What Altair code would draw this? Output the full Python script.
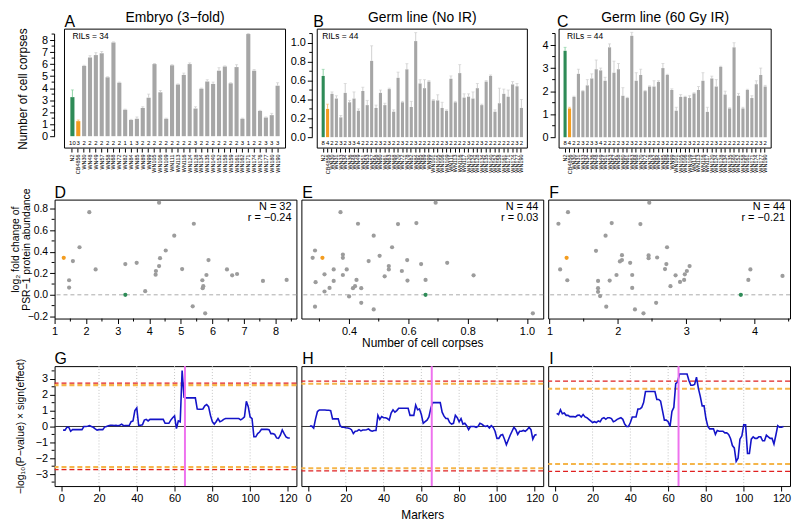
import altair as alt
import pandas as pd

FONT = "Liberation Sans"
GREEN = "#2e8b57"
LGREEN = "#8fd3a6"
ORANGE = "#f39c1f"
LORANGE = "#f7c27a"
GRAY = "#a6a6a6"
LGRAY = "#d0d0d0"
PT_GRAY = "#9c9c9c"
BLUE = "#1414c8"
MAGENTA = "#ee72ee"
RED = "#e02020"
GOLD = "#f5b54a"

# ---------------- top row: cell corpses per strain ----------------
A_names = ["N2", "CB4856", "WN30", "WN48", "WN49", "WN57", "WN58", "WN68", "WN72", "WN82",
           "WN84", "WN85", "WN89", "WN99", "WN105", "WN106", "WN109", "WN111", "WN113", "WN116",
           "WN124", "WN128", "WN134", "WN135", "WN140", "WN152", "WN158", "WN159", "WN161", "WN162",
           "WN171", "WN174", "WN176", "WN177", "WN180", "WN190"]
A_vals = [3.25, 1.25, 5.85, 6.55, 6.75, 6.9, 4.9, 7.8, 4.45, 2.2, 1.35, 1.45,
          2.35, 3.2, 6.0, 3.65, 1.45, 5.9, 4.3, 5.1, 6.0, 2.3,
          3.95, 4.55, 4.35, 5.45, 5.8, 4.4, 5.75, 1.45, 8.5, 5.45,
          2.1, 1.55, 1.75, 4.2]
A_errs = [3.85, 1.35, 5.9, 6.7, 6.95, 7.05, 4.95, 7.85, 4.5, 2.25, 1.4, 1.6,
          2.45, 3.5, 6.05, 3.8, 1.5, 5.95, 4.35, 5.25, 6.1, 2.45,
          4.0, 4.7, 4.5, 5.7, 5.85, 4.45, 5.95, 1.5, 8.55, 5.55,
          2.15, 1.6, 1.9, 4.45]
A_counts = [10, 3, 2, 2, 2, 2, 2, 2, 2, 1, 1, 3, 2, 2, 2, 2, 2, 2, 2,
            2, 2, 3, 2, 2, 2, 2, 2, 2, 2, 3, 1, 2, 2, 3, 3, 3]

BC_names = ["N2", "CB4856", "WN30", "WN31", "WN33", "WN34", "WN36", "WN48", "WN49", "WN51",
            "WN53", "WN57", "WN58", "WN60", "WN61", "WN63", "WN68", "WN70", "WN72", "WN78",
            "WN82", "WN84", "WN85", "WN89", "WN99", "WN101", "WN105", "WN106", "WN109", "WN111",
            "WN113", "WN116", "WN117", "WN120", "WN124", "WN128", "WN134", "WN135", "WN140", "WN152",
            "WN158", "WN161", "WN171", "WN174", "WN177", "WN190"]
B_vals = [0.65, 0.30, 0.46, 0.41, 0.21, 0.47, 0.37, 0.41, 0.28, 0.49, 0.34, 0.81,
          0.31, 0.47, 0.34, 0.51, 0.27, 0.63, 0.37, 0.72, 0.32, 1.02,
          0.57, 0.52, 0.59, 0.39, 0.39, 0.31, 0.28, 0.62, 0.37, 0.68,
          0.42, 0.43, 0.41, 0.52, 0.34, 0.59, 0.65, 0.27, 0.36, 0.46,
          0.43, 0.56, 0.54, 0.31]
B_errs = [0.72, 0.35, 0.48, 0.44, 0.23, 0.57, 0.39, 0.48, 0.30, 0.53, 0.39, 0.97,
          0.34, 0.50, 0.36, 0.52, 0.29, 0.69, 0.38, 0.78, 0.38, 1.11,
          0.61, 0.61, 0.60, 0.40, 0.45, 0.37, 0.29, 0.65, 0.38, 0.77,
          0.46, 0.46, 0.48, 0.57, 0.35, 0.60, 0.66, 0.29, 0.52, 0.51,
          0.50, 0.59, 0.57, 0.40]
B_counts = [8, 4, 2, 2, 3, 2, 3, 3, 4, 2, 2, 2, 2, 3, 2, 3, 2, 2, 3, 2, 2, 3,
            2, 2, 2, 2, 2, 2, 3, 2, 2, 2, 2, 3, 2, 2, 3, 2, 2, 2, 2, 2, 2, 2, 3, 2]
C_vals = [3.75, 1.25, 1.75, 2.75, 2.0, 2.25, 2.55, 2.95, 2.9, 2.45, 3.9, 2.8,
          2.95, 1.8, 1.7, 4.4, 2.45, 2.7, 2.0, 2.2, 2.2, 2.4,
          3.0, 2.7, 2.05, 1.15, 1.75, 1.75, 1.7, 1.9, 2.05, 2.45,
          1.1, 2.55, 2.2, 3.05, 1.85, 1.25, 3.9, 1.8, 1.25, 2.05,
          1.7, 2.3, 2.7, 2.2]
C_errs = [3.9, 1.3, 1.78, 2.95, 2.03, 2.5, 2.75, 3.35, 3.0, 2.6, 4.05, 3.3,
          3.2, 2.15, 1.73, 4.55, 2.8, 2.95, 2.03, 2.23, 2.45, 2.45,
          3.2, 2.73, 2.1, 1.3, 1.85, 1.78, 1.8, 1.93, 2.2, 2.8,
          1.3, 2.65, 2.5, 3.08, 2.0, 1.28, 4.1, 1.9, 1.3, 2.08,
          1.8, 2.45, 3.0, 2.25]
C_counts = [8, 4, 2, 2, 3, 2, 3, 3, 4, 2, 2, 2, 2, 3, 2, 3, 2, 2, 3, 2, 2, 2,
            3, 2, 2, 2, 2, 2, 3, 2, 2, 2, 2, 2, 3, 2, 2, 2, 2, 2, 2, 2, 2, 2, 3, 2]

A_ticks = [0, 1, 2, 3, 4, 5, 6, 7, 8]
A_minor = [0.5, 1.5, 2.5, 3.5, 4.5, 5.5, 6.5, 7.5, 8.5]
B_ticks = [0.0, 0.2, 0.4, 0.6, 0.8, 1.0]
B_minor = [0.1, 0.3, 0.5, 0.7, 0.9, 1.1]
C_ticks = [0, 1, 2, 3, 4]
C_minor = [0.5, 1.5, 2.5, 3.5, 4.5]

# ---------------- middle row: PSR-1 fold change vs corpses ----------------
D_x = [2.10, 4.31, 5.41, 4.79, 1.79, 4.52, 1.58, 4.34, 5.875, 3.60, 3.24, 4.31, 2.30, 5.04, 6.46,
       4.21, 4.20, 5.81, 6.625, 6.78, 1.46, 5.68, 7.60, 8.35, 1.46, 5.71, 5.69, 3.87, 5.375, 5.77]
D_y = [0.766, 0.855, 0.659, 0.549, 0.441, 0.411, 0.313, 0.340, 0.322, 0.297, 0.285, 0.267, 0.236,
       0.239, 0.236, 0.221, 0.187, 0.184, 0.181, 0.193, 0.135, 0.135, 0.129, 0.138, 0.067, 0.080,
       0.062, 0.034, -0.107, -0.172]
D_cb = (1.29, 0.343)
D_n2 = (3.24, 0.0)

E_x = [0.692, 0.371, 0.430, 0.565, 0.627, 0.483, 0.545, 0.285, 0.379, 0.379, 0.503, 0.277, 0.466,
       0.596, 0.731, 0.643, 0.534, 0.534, 0.348, 0.392, 0.578, 0.317, 0.379, 0.520, 0.820, 0.348,
       0.425, 0.597, 0.658, 0.287, 0.334, 0.413, 0.420, 0.441, 0.317, 0.400, 0.441, 0.285, 0.483,
       1.02]
E_y = [0.855, 0.766, 0.659, 0.656, 0.665, 0.549, 0.441, 0.411, 0.374, 0.343, 0.362, 0.343, 0.313,
       0.322, 0.297, 0.285, 0.267, 0.236, 0.236, 0.236, 0.221, 0.190, 0.184, 0.172, 0.181, 0.129,
       0.138, 0.132, 0.138, 0.117, 0.064, 0.062, 0.080, 0.062, 0.031, -0.015, -0.074, -0.110, -0.135,
       -0.172]
E_cb = (0.31, 0.343)
E_n2 = (0.658, 0.0)

F_x = [2.46, 1.27, 1.13, 1.91, 2.33, 1.82, 2.72, 1.68, 2.06, 2.45, 2.45, 2.575, 2.06, 2.03, 2.18,
       2.71, 3.05, 2.69, 1.155, 3.94, 3.01, 2.98, 1.98, 2.21, 2.845, 4.41, 1.26, 1.88, 1.71, 2.97,
       2.91, 3.91, 2.77, 1.71, 2.21, 1.71, 1.74, 2.56, 1.83, 2.25, 2.375]
F_y = [0.855, 0.766, 0.659, 0.665, 0.656, 0.549, 0.441, 0.408, 0.368, 0.365, 0.340, 0.346, 0.322,
       0.310, 0.297, 0.285, 0.267, 0.239, 0.236, 0.236, 0.221, 0.190, 0.184, 0.184, 0.181, 0.175,
       0.135, 0.132, 0.129, 0.138, 0.120, 0.138, 0.080, 0.062, 0.064, 0.028, -0.012, -0.074, -0.110,
       -0.135, -0.172]
F_cb = (1.25, 0.343)
F_n2 = (3.80, 0.0)

MID_y_ticks = [-0.2, 0.0, 0.2, 0.4, 0.6, 0.8]
MID_y_minor = [-0.1, 0.1, 0.3, 0.5, 0.7]
D_x_ticks = [1, 2, 3, 4, 5, 6, 7, 8]
D_x_minor = [1.5, 2.5, 3.5, 4.5, 5.5, 6.5, 7.5, 8.5]
E_x_ticks = [0.4, 0.6, 0.8, 1.0]
E_x_minor = [0.3, 0.5, 0.7, 0.9]
F_x_ticks = [1, 2, 3, 4]
F_x_minor = [1.5, 2.5, 3.5, 4.5]

# ---------------- bottom row: QTL scans ----------------
MARKERS = list(range(1, 122))
G_vals = [-0.23, -0.23, -0.05, -0.05, -0.3, -0.2, -0.2, -0.2, -0.2, -0.2,
          -0.2, 0.0, 0.0, 0.02, 0.06, 0.0, -0.05, -0.15, -0.23, -0.2,
          -0.2, -0.2, -0.04, 0.0, 0.04, 0.08, 0.08, 0.06, 0.08, 0.05,
          0.08, 0.15, 0.05, 0.06, 0.06, 0.06, 0.3, 0.35, 1.0, 1.17,
          0.08, 0.08, 0.1, 0.4, 0.45, 0.35, 0.45, 0.45, 0.45, 0.45,
          0.45, 0.45, 0.45, 0.45, 0.2, 0.2, 0.2, 0.4, 0.55, 0.67,
          -0.13, 0.35, 0.3, 3.52, 1.85, 1.8, 1.8, 1.8, 1.8, 1.8,
          1.8, 1.1, 1.08, 1.08, 1.1, 1.3, 1.38, 1.25, 0.7, 0.3,
          0.15, 0.3, 0.5, 0.3, 0.35, 0.45, 0.5, 0.5, 0.5, 0.5,
          0.5, 0.5, 0.5, 0.5, 0.42, 0.5, 0.6, 1.58, 1.25, 0.6,
          0.5, -0.65, -0.65, -0.45, -0.35, -0.18, -0.18, -0.18, -0.18, -0.2,
          -0.45, -0.45, -0.5, -0.72, -0.75, -0.55, -0.22, -0.45, -0.65, -0.72,
          -0.72]
H_vals = [0.02, 0.02, -0.1, 0.48, 0.94, 1.04, 1.04, 1.04, 1.04, 1.02,
          1.02, 1.0, 0.48, 0.48, 0.48, 0.48, 0.05, -0.05, -0.05, -0.08,
          -0.1, -0.12, -0.2, -0.45, -0.3, -0.28, -0.2, -0.28, -0.22, -0.22,
          -0.2, -0.15, -0.25, -0.3, -0.25, -0.25, 0.7, 0.45, 0.62, 0.55,
          0.55, 0.5, 0.4, 0.85, 1.05, 0.9, 1.0, 1.15, 1.15, 1.15,
          1.15, 1.15, 1.15, 0.7, 0.7, 0.7, 1.35, 1.05, 1.1, 0.75,
          0.2, 0.3, 0.4, 0.6, 1.15, 1.5, 1.5, 1.5, 1.5, 1.5,
          0.9, 0.65, 0.5, 0.5, 0.25, 0.15, 0.2, 0.7, 0.55, 0.3,
          0.5, 0.15, 0.2, 0.05, -0.2, 0.0, 0.0, 0.0, -0.05, 0.0,
          0.2, 0.15, 0.05, 0.0, 0.05, -0.1, 0.05, -0.05, -0.3, -0.75,
          -0.75, -0.55, -0.5, -0.8, -1.15, -0.85, -0.55, -0.3, -0.05, -0.2,
          -0.5, -0.3, -0.3, -0.25, -0.3, -0.2, -0.05, -0.2, -0.8, -0.55,
          -0.5]
I_vals = [0.83, 0.75, 1.05, 0.8, 0.85, 0.7, 0.7, 0.62, 0.62, 0.62,
          0.6, 0.7, 0.72, 0.6, 0.75, 0.6, 0.55, 0.45, 0.35, 0.25,
          0.3, 0.25, 0.35, 0.3, 0.5, 0.55, 0.45, 0.55, 0.55, 0.5,
          0.3, 0.35, 0.45, 0.5, 0.55, 0.45, 0.15, 0.0, 0.0, 0.25,
          0.6, 0.6, 0.6, 1.1, 1.1, 1.2, 1.5, 2.2, 2.2, 2.2,
          2.2, 2.2, 2.2, 1.7, 1.7, 1.6, 1.0, 0.4, 0.4, 0.3,
          0.0, 0.95, 1.2, 2.7, 2.8, 3.3, 3.3, 3.3, 3.3, 3.3,
          2.9, 2.6, 2.6, 2.65, 3.1, 2.4, 1.9, 1.3, 1.3, 0.5,
          0.0, -0.15, -0.15, -0.15, -0.5, -0.25, -0.3, -0.3, -0.3, -0.4,
          -0.4, -0.5, -0.75, -1.2, -1.35, -2.2, -2.0, -0.8, -0.6, 0.1,
          0.1, -1.7, -1.7, -0.8, -0.65, -0.75, -0.75, -0.65, -0.65, -0.9,
          -0.9, -0.55, -0.65, -0.75, -0.75, -1.1, -0.55, 0.05, -0.05, -0.05,
          0.0]
G_thr = {"red": [2.73, -2.71], "gold": [2.6, -2.56]}
H_thr = {"red": [2.86, -2.79], "gold": [2.69, -2.63]}
I_thr = {"red": [2.86, -2.83], "gold": [2.375, -2.36]}
PEAK_MARKER = [65.5]
GRID_MARKS = [20, 40, 60, 80, 100]
BOT_x_ticks = [0, 20, 40, 60, 80, 100, 120]
BOT_y_ticks = [-3, -2, -1, 0, 1, 2, 3]
BOT_y_minor = [-3.5, -2.5, -1.5, -0.5, 0.5, 1.5, 2.5, 3.5]
ZERO = [0]

one = pd.DataFrame({"k": [0]})


def txt(x, y, s, size, align="left", baseline="alphabetic"):
    return alt.Chart(one).mark_text(text=s, fontSize=size, align=align, baseline=baseline,
                                    font=FONT, color="black").encode(x=alt.value(x), y=alt.value(y))


def spacer(x, y1, y2):
    return alt.Chart(one).mark_rule(color="white", opacity=0).encode(
        x=alt.value(x), y=alt.value(y1), y2=alt.value(y2))


def minor_ticks(vals, offset, yax):
    return alt.Chart(pd.DataFrame({"m": vals})).mark_rule(color="black").encode(
        x=alt.value(-offset - 3), x2=alt.value(-offset), y=alt.Y("m:Q", axis=yax))


def minor_xticks(vals, height, xax):
    return alt.Chart(pd.DataFrame({"mx": vals})).mark_rule(color="black").encode(
        x=alt.X("mx:Q", axis=xax), y=alt.value(height), y2=alt.value(height + 3))


def hline(vals, yax, **kw):
    return alt.Chart(pd.DataFrame({"h": vals})).mark_rule(**kw).encode(y=alt.Y("h:Q", axis=yax))


def bar_panel(names, vals, errs, counts, domain, ticks, tfmt, minor, width, inset, letter, letter_x,
              title, rils, rils_x, offset, count_y, ytitle=None, sp=None):
    n = len(names)
    df = pd.DataFrame({"name": names, "value": vals, "err": errs,
                       "n": [str(c) for c in counts],
                       "base": [0.0] * n,
                       "cy": [count_y] * n,
                       "bcol": [GREEN, ORANGE] + [GRAY] * (n - 2),
                       "ecol": [LGREEN, LORANGE] + [LGRAY] * (n - 2)})
    ysc = alt.Scale(domain=domain, nice=False, zero=False)
    xsc = alt.Scale(paddingInner=0.3, paddingOuter=1.0, range=[inset, width])
    xax = alt.Axis(title=None, labelAngle=270, labelAlign="right", labelBaseline="middle",
                   labelFontSize=5.5, labelPadding=2, tickSize=4, domain=False, labelOverlap=False)
    yd = dict(values=ticks, format=tfmt, offset=offset, domain=False, tickSize=5, labelPadding=2)
    if ytitle:
        yd.update(title=ytitle, titlePadding=12, titleFontSize=12)
    else:
        yd["title"] = None
    yax = alt.Axis(**yd)
    X = alt.X("name:N", sort=names, scale=xsc, axis=xax)
    base = alt.Chart(df)
    frame = alt.Chart(one).mark_rect(fillOpacity=0, stroke="black", strokeWidth=1).encode(
        x=alt.value(inset), x2=alt.value(width), y=alt.value(0), y2=alt.value(120))
    bars = base.mark_bar().encode(x=X, y=alt.Y("value:Q", scale=ysc, axis=yax),
                                  y2="base:Q", color=alt.Color("bcol:N", scale=None))
    eb = base.transform_filter("datum.err > datum.value + 0.001")
    rule = eb.mark_rule(strokeWidth=1).encode(x=X, y=alt.Y("value:Q", axis=yax), y2="err:Q",
                                             color=alt.Color("ecol:N", scale=None))
    caps = eb.mark_tick(thickness=1, size=3).encode(x=X, y=alt.Y("err:Q", axis=yax),
                                                     color=alt.Color("ecol:N", scale=None))
    cnt = base.mark_text(fontSize=6, font=FONT, color="black").encode(
        x=X, y=alt.Y("cy:Q", axis=yax), text="n:N")
    dom = alt.Chart(pd.DataFrame({"a": [ticks[0]], "b": [minor[-1]]})).mark_rule(color="black").encode(
        x=alt.value(-offset), y=alt.Y("a:Q", axis=yax), y2="b:Q")
    layers = [bars, rule, caps, cnt, dom, minor_ticks(minor, offset, yax), frame,
              txt(letter_x, -2, letter, 16),
              txt((inset + width) / 2, -7, title, 14, align="center"),
              txt(rils_x, 7, rils, 8.5, baseline="middle")]
    if sp:
        layers.append(spacer(*sp))
    return alt.layer(*layers).properties(width=width, height=120,
                                         view=alt.ViewBackground(strokeOpacity=0))


def scatter_panel(gx, gy, cb, n2, xdom, xticks, xminor, xfmt, letter, letter_x, ntext, rtext, width,
                  show_y, xtitle=None, sp=None):
    df = pd.DataFrame({"x": list(gx) + [cb[0], n2[0]], "y": list(gy) + [cb[1], n2[1]],
                       "c": [PT_GRAY] * len(gx) + [ORANGE, GREEN]})
    xsc = alt.Scale(domain=xdom, nice=False, zero=False)
    ysc = alt.Scale(domain=[-0.22, 0.883], nice=False, zero=False)
    xax = alt.Axis(values=xticks, format=xfmt, title=xtitle, tickSize=5, domain=False,
                   labelPadding=2, titlePadding=1, titleFontSize=12)
    if show_y:
        yax = alt.Axis(values=MID_y_ticks, format=".1f", domain=False, tickSize=5, labelPadding=2,
                       labelFontSize=10.5,
                       title=["log\u2082 fold change of", "PSR\u22121 protein abundance"],
                       titlePadding=-4, titleY=50, titleFontSize=10.5, titleLineHeight=11)
    else:
        yax = None
    zero = hline(ZERO, yax, color="#aaaaaa", strokeDash=[4, 3], strokeWidth=1)
    pts = alt.Chart(df).mark_circle(size=18, opacity=1).encode(
        x=alt.X("x:Q", scale=xsc, axis=xax), y=alt.Y("y:Q", scale=ysc, axis=yax),
        color=alt.Color("c:N", scale=None))
    layers = [zero, pts, minor_xticks(xminor, 120, xax)]
    if show_y:
        layers.append(minor_ticks(MID_y_minor, 0, yax))
    layers += [txt(letter_x, -2, letter, 16),
               txt(width - 5, 7, ntext, 11, align="right", baseline="middle"),
               txt(width - 5, 19, rtext, 11, align="right", baseline="middle")]
    if sp:
        layers.append(spacer(*sp))
    return alt.layer(*layers).properties(width=width, height=120)


def line_panel(vals, thr, letter, letter_x, width, show_y, xtitle=None, sp=None):
    df = pd.DataFrame({"m": MARKERS, "v": vals})
    xsc = alt.Scale(domain=[-3.5, 124.5], nice=False, zero=False)
    ysc = alt.Scale(domain=[-3.75, 3.8], nice=False, zero=False)
    xax = alt.Axis(values=BOT_x_ticks, format="d", title=xtitle, tickSize=5, domain=False,
                   labelPadding=2, titlePadding=6, titleFontSize=12)
    if show_y:
        yax = alt.Axis(values=BOT_y_ticks, format="d", domain=False, tickSize=5, labelPadding=2,
                       title="\u2212log\u2081\u2080(P\u2212value) \u00d7 sign(effect)",
                       titlePadding=10, titleFontSize=10.5)
    else:
        yax = None
    grid = alt.Chart(pd.DataFrame({"g": GRID_MARKS})).mark_rule(
        color="#c4c4c4", strokeDash=[1, 2]).encode(x=alt.X("g:Q", scale=xsc, axis=xax))
    gold = hline(thr["gold"], yax, color=GOLD, strokeDash=[5, 3], strokeWidth=2.2)
    red = hline(thr["red"], yax, color=RED, strokeDash=[5, 3], strokeWidth=1.2)
    zero = hline(ZERO, yax, color="#333333", strokeWidth=1)
    line = alt.Chart(df).mark_line(color=BLUE, strokeWidth=1.6).encode(
        x=alt.X("m:Q", scale=xsc, axis=xax), y=alt.Y("v:Q", scale=ysc, axis=yax))
    peak = alt.Chart(pd.DataFrame({"p": PEAK_MARKER})).mark_rule(
        color=MAGENTA, strokeWidth=2).encode(x=alt.X("p:Q", axis=xax))
    layers = [grid, gold, red, zero, line, peak]
    if show_y:
        layers.append(minor_ticks(BOT_y_minor, 0, yax))
    layers.append(txt(letter_x, -2, letter, 16))
    if sp:
        layers.append(spacer(*sp))
    return alt.layer(*layers).properties(width=width, height=121)


A = bar_panel(A_names, A_vals, A_errs, A_counts, [-0.99, 8.91], A_ticks, "d", A_minor, 233, 10,
              "A", 10, "Embryo (3\u2212fold)", "RILs = 34", 18, 0, -0.55,
              ytitle="Number of cell corpses", sp=(-46, -19, 155))
B = bar_panel(BC_names, B_vals, B_errs, B_counts, [-0.116, 1.147], B_ticks, ".1f", B_minor, 212, 0,
              "B", -4, "Germ line (No IR)", "RILs = 44", 5, 5, -0.065)
C = bar_panel(BC_names, C_vals, C_errs, C_counts, [-0.47, 4.69], C_ticks, "d", C_minor, 214, 0,
              "C", -2, "Germ line (60 Gy IR)", "RILs = 44", 8, 4, -0.26)

D = scatter_panel(D_x, D_y, D_cb, D_n2, [1.0, 8.66], D_x_ticks, D_x_minor, "d", "D", 0,
                  "N = 32", "r = \u22120.24", 244, True, sp=(-46, -16, 151))
E = scatter_panel(E_x, E_y, E_cb, E_n2, [0.239, 1.055], E_x_ticks, E_x_minor, ".1f", "E", 1,
                  "N = 44", "r = 0.03", 244, False, xtitle="Number of cell corpses")
F = scatter_panel(F_x, F_y, F_cb, F_n2, [0.98, 4.52], F_x_ticks, F_x_minor, "d", "F", 1,
                  "N = 44", "r = \u22120.21", 244, False)

G = line_panel(G_vals, G_thr, "G", 0, 244, True, sp=(-46, -15, 160))
H = line_panel(H_vals, H_thr, "H", 1, 244, False, xtitle="Markers")
I = line_panel(I_vals, I_thr, "I", 1, 244, False)

row1 = alt.hconcat(A, B, C, spacing=32, bounds="flush")
row2 = alt.hconcat(D, E, F, spacing=5, bounds="flush")
row3 = alt.hconcat(G, H, I, spacing=5, bounds="flush")

chart = alt.vconcat(row1, row2, row3, spacing=0).properties(padding=0).configure_view(
    stroke="black", strokeWidth=1
).configure_axis(
    labelFont=FONT, titleFont=FONT, labelFontSize=11, titleFontSize=12, titleFontWeight="normal",
    labelColor="black", titleColor="black", tickColor="black", tickWidth=1, grid=False,
    labelFlush=False
).configure_text(font=FONT)

chart.save("out.html", embed_options={"renderer": "svg", "actions": False})
